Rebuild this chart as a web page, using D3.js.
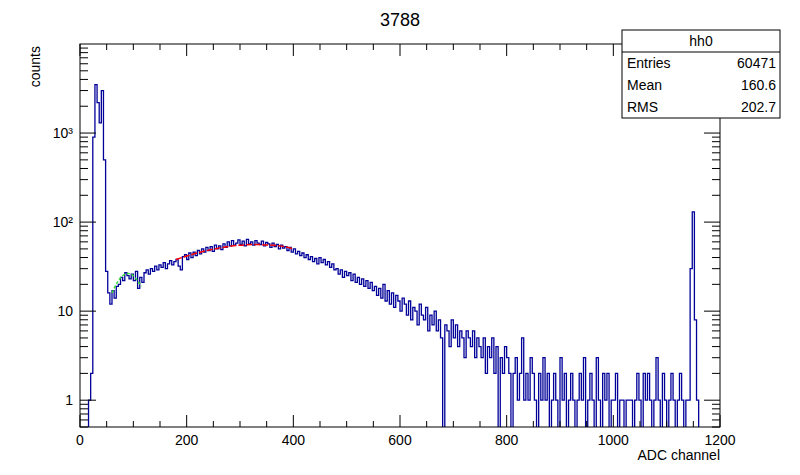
<!DOCTYPE html>
<meta charset="utf-8">
<style>
  body { margin: 0; background: #fff; }
  text { font-family: "Liberation Sans", Arial, sans-serif; }
</style>
<svg width="800" height="475"></svg>
<script src="https://d3js.org/d3.v7.min.js"></script>
<script>
// bin width 4, lower edges 0,4,8,...  (one row = 32 channels)
var binWidth = 4;
var counts = [
  0,0,0,0,1,2,900,3500,
  2200,1300,3000,500,28,16,12,17,
  14,19,20,24,22,27,25,23,
  26,22,28,18,24,21,27,29,
  26,30,28,32,29,33,31,35,
  30,34,37,33,36,38,32,29,
  41,43,38,45,40,46,42,48,
  44,50,46,52,48,53,47,55,
  50,54,49,57,52,60,54,62,
  55,58,63,56,61,54,64,57,
  60,55,62,58,56,61,54,59,
  57,52,58,53,56,50,55,51,
  53,48,52,46,50,44,47,42,
  45,40,43,38,41,36,39,34,
  40,35,38,33,36,31,34,29,
  30,26,29,24,28,25,27,22,
  26,21,24,20,23,19,22,18,
  21,17,19,15,18,14,20,13,
  17,12,16,11,15,13,10,14,
  12,9,13,8,11,10,7,12,
  9,8,11,6,9,7,10,6,
  8,5,0,7,6,4,8,5,
  7,4,6,5,3,6,5,4,
  6,3,5,4,3,5,2,4,
  3,5,2,4,0,3,2,4,
  3,2,0,2,3,1,2,5,
  1,2,1,3,2,1,0,2,
  1,3,1,2,0,1,2,1,
  0,3,1,2,0,1,2,1,
  0,1,2,1,3,0,1,2,
  1,0,3,1,0,2,1,2,
  0,1,1,2,0,1,1,0,
  1,1,1,0,1,2,1,0,
  2,1,2,1,0,1,3,1,
  0,2,1,0,1,2,1,0,
  1,2,1,0,1,1,30,130,
  8,1,0,0,0,0,0,0,
  0,0,0,0
];
var greenFitX = [60, 70, 80, 90, 100, 110, 115];
var greenFitY = [16, 21, 25, 26.5, 25, 21, 19];
var redFitX = [180, 220, 260, 300, 330, 360, 390, 400];
var redFitY = [38, 45, 51, 55, 56, 55, 52, 50];
var yTicks = [1, 10, 100, 1000];
var yTickLabels = ["1", "10", "10²", "10³"];
var xTicks = [0, 200, 400, 600, 800, 1000, 1200];
var stats = [["Entries", "60471"], ["Mean", "160.6"], ["RMS", "202.7"]];

var svg = d3.select("svg"),
    L = 80, R = 720, T = 44, B = 427;

var x = d3.scaleLinear().domain([0, 1200]).range([L, R]);
var y = d3.scaleLog().domain([0.5, 10000]).range([B, T]);

svg.append("clipPath").attr("id", "clip")
  .append("rect").attr("x", L).attr("y", T).attr("width", R - L).attr("height", B - T);

// histogram step line
var pts = [];
counts.forEach(function(v, i) {
  var yy = v > 0 ? y(v) : B + 5;
  pts.push([x(i * binWidth), yy], [x((i + 1) * binWidth), yy]);
});
svg.append("path")
  .attr("clip-path", "url(#clip)")
  .attr("d", d3.line()(pts))
  .attr("fill", "none").attr("stroke", "#000099").attr("stroke-width", 1.3);

var fitLine = d3.line().curve(d3.curveMonotoneX);
svg.append("path")
  .attr("d", fitLine(greenFitX.map(function(d, i) { return [x(d), y(greenFitY[i])]; })))
  .attr("fill", "none").attr("stroke", "#33dd33").attr("stroke-width", 1.5).attr("stroke-dasharray", "3,2");
svg.append("path")
  .attr("d", fitLine(redFitX.map(function(d, i) { return [x(d), y(redFitY[i])]; })))
  .attr("fill", "none").attr("stroke", "#ff0000").attr("stroke-width", 1.5).attr("stroke-dasharray", "6,2");

// frame
svg.append("rect").attr("x", L).attr("y", T).attr("width", R - L).attr("height", B - T)
  .attr("fill", "none").attr("stroke", "#000");

// x ticks (inside, both sides)
d3.range(0, 1201, 50).forEach(function(v) {
  var len = v % 200 === 0 ? 12 : 6;
  svg.append("line").attr("x1", x(v)).attr("x2", x(v)).attr("y1", B).attr("y2", B - len).attr("stroke", "#000");
  svg.append("line").attr("x1", x(v)).attr("x2", x(v)).attr("y1", T).attr("y2", T + len).attr("stroke", "#000");
});
xTicks.forEach(function(v) {
  svg.append("text").attr("x", x(v)).attr("y", B + 18).attr("text-anchor", "middle")
    .attr("font-size", 14).text(v);
});

// y ticks (log)
[1, 10, 100, 1000].forEach(function(dec) {
  for (var k = 1; k < 10; k++) {
    var v = dec * k;
    var len = k === 1 ? 16 : 8;
    svg.append("line").attr("x1", L).attr("x2", L + len).attr("y1", y(v)).attr("y2", y(v)).attr("stroke", "#000");
    svg.append("line").attr("x1", R).attr("x2", R - len).attr("y1", y(v)).attr("y2", y(v)).attr("stroke", "#000");
  }
});
[0.5, 0.6, 0.7, 0.8, 0.9].forEach(function(v) {
  svg.append("line").attr("x1", L).attr("x2", L + 8).attr("y1", y(v)).attr("y2", y(v)).attr("stroke", "#000");
  svg.append("line").attr("x1", R).attr("x2", R - 8).attr("y1", y(v)).attr("y2", y(v)).attr("stroke", "#000");
});
yTicks.forEach(function(v, i) {
  svg.append("text").attr("x", 73).attr("y", y(v) + 5).attr("text-anchor", "end")
    .attr("font-size", 14).text(yTickLabels[i]);
});

// titles
svg.append("text").attr("x", 400).attr("y", 26).attr("text-anchor", "middle").attr("font-size", 18).text("3788");
svg.append("text").attr("x", R).attr("y", 460).attr("text-anchor", "end").attr("font-size", 14).text("ADC channel");
svg.append("text").attr("transform", "translate(40,46)rotate(-90)").attr("text-anchor", "end")
  .attr("font-size", 14).text("counts");

// stats box
var bx = 622, by = 30, bw = 158, rh = 22;
var box = svg.append("g");
box.append("rect").attr("x", bx).attr("y", by).attr("width", bw).attr("height", rh * 4)
  .attr("fill", "#fff").attr("stroke", "#000");
box.append("line").attr("x1", bx).attr("x2", bx + bw).attr("y1", by + rh).attr("y2", by + rh).attr("stroke", "#000");
box.append("text").attr("x", bx + bw / 2).attr("y", by + 16).attr("text-anchor", "middle").attr("font-size", 14).text("hh0");
stats.forEach(function(s, i) {
  box.append("text").attr("x", bx + 5).attr("y", by + rh * (i + 1) + 16).attr("font-size", 14).text(s[0]);
  box.append("text").attr("x", bx + bw - 4).attr("y", by + rh * (i + 1) + 16).attr("text-anchor", "end").attr("font-size", 14).text(s[1]);
});
</script>
